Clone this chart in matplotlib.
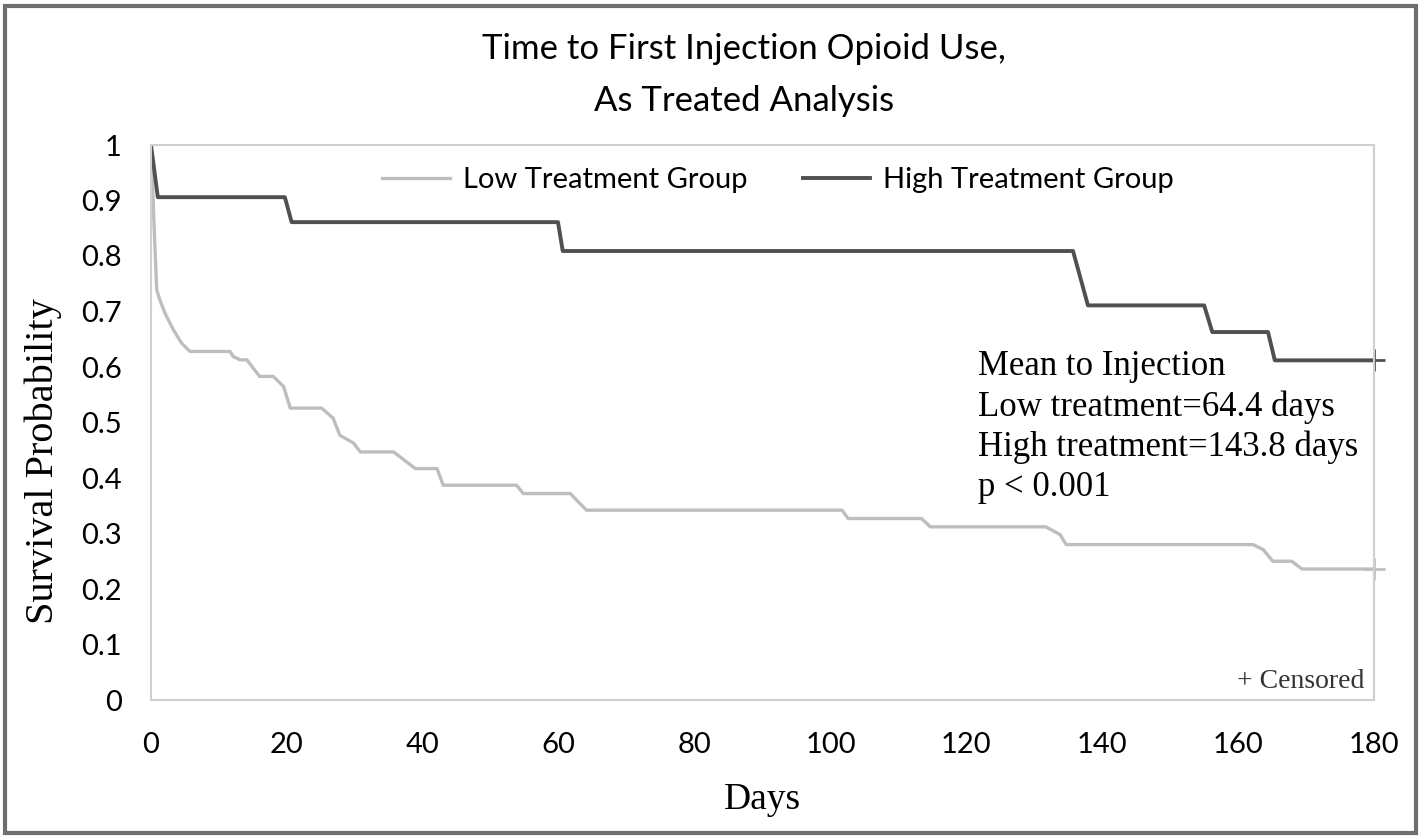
import matplotlib
matplotlib.use("Agg")
import matplotlib.pyplot as plt
from matplotlib.patches import Rectangle

# ---- data ----
low_days = [0, 0.5, 0.84, 1.3, 2.06, 3.3, 4.5, 5.74, 11.63, 12.1, 13.1, 14.1, 16.0, 18.0,
            19.5, 20.5, 25.1, 26.8, 27.8, 29.8, 30.8, 35.7, 38.9, 42.1, 43.0, 53.8, 54.8,
            61.7, 64.1, 101.7, 102.6, 113.4, 114.7, 131.7, 133.8, 134.7, 162.2, 163.7,
            165.1, 167.9, 169.4, 180]
low_surv = [1.0, 0.84, 0.739, 0.721, 0.697, 0.667, 0.643, 0.628, 0.628, 0.619, 0.613, 0.613,
            0.583, 0.583, 0.565, 0.526, 0.526, 0.508, 0.477, 0.463, 0.447, 0.447, 0.417,
            0.417, 0.387, 0.387, 0.372, 0.372, 0.342, 0.342, 0.327, 0.327, 0.312, 0.312,
            0.298, 0.280, 0.280, 0.271, 0.250, 0.250, 0.236, 0.236]

high_days = [0, 1.0, 19.7, 20.7, 59.9, 60.6, 135.7, 137.9, 155.0, 156.2, 164.4, 165.4, 180]
high_surv = [1.0, 0.906, 0.906, 0.861, 0.861, 0.809, 0.809, 0.711, 0.711, 0.663, 0.663,
             0.612, 0.612]

censor_day = 180
low_censor = 0.236
high_censor = 0.612

x_ticks = [0, 20, 40, 60, 80, 100, 120, 140, 160, 180]
y_ticks = [0, 0.1, 0.2, 0.3, 0.4, 0.5, 0.6, 0.7, 0.8, 0.9, 1]
y_tick_labels = ["0", "0.1", "0.2", "0.3", "0.4", "0.5", "0.6", "0.7", "0.8", "0.9", "1"]

title = "Time to First Injection Opioid Use,\nAs Treated Analysis"
series_names = ["Low Treatment Group", "High Treatment Group"]
annot = "Mean to Injection\nLow treatment=64.4 days\nHigh treatment=143.8 days\np < 0.001"

LOW_C = "#bebebe"
HIGH_C = "#505050"
SANS = ["Lato", "DejaVu Sans"]
SERIF = ["Liberation Serif", "DejaVu Serif"]

W, H = 1423, 838
fig = plt.figure(figsize=(W / 100, H / 100), dpi=100)
ax = fig.add_axes([151 / W, 1 - 700 / H, (1374 - 151) / W, (700 - 145) / H])

ax.plot(low_days, low_surv, color=LOW_C, lw=2.4, label=series_names[0], solid_joinstyle="round")
ax.plot(high_days, high_surv, color=HIGH_C, lw=2.8, label=series_names[1], solid_joinstyle="round")
ax.plot([censor_day], [low_censor], marker="+", color=LOW_C, ms=16, mew=2, clip_on=False)
ax.plot([censor_day], [high_censor], marker="+", color=HIGH_C, ms=16, mew=2, clip_on=False)

ax.set_xlim(0, 180)
ax.set_ylim(0, 1)
ax.set_xticks(x_ticks)
ax.set_xticklabels([str(v) for v in x_ticks], fontfamily=SANS, fontsize=21)
ax.set_yticks(y_ticks)
ax.set_yticklabels(y_tick_labels, fontfamily=SANS, fontsize=21)
ax.tick_params(axis="x", length=0, pad=23)
ax.tick_params(axis="y", length=0, pad=21)
for s in ax.spines.values():
    s.set_color("#d0d0d0")
    s.set_linewidth(1.5)

ax.set_xlabel("Days", fontfamily=SERIF, fontsize=27, va="top")
ax.xaxis.set_label_coords(0.5, -(782 - 700) / 555)
ax.set_ylabel("Survival Probability", fontfamily=SERIF, fontsize=29)
ax.yaxis.set_label_coords((62 - 151) / 1223, (700 - 461) / 555)

leg = ax.legend(ncol=2, loc="center", bbox_to_anchor=((778 - 151) / (1374 - 151), (700 - 180) / (700 - 145)),
                frameon=False, prop={"family": SANS, "size": 21}, handlelength=2.3,
                handletextpad=0.45, columnspacing=1.9)

fig.text(744 / W, 1 - 75 / H, title, ha="center", va="center", fontfamily=SANS,
         fontsize=25, linespacing=1.75)

fig.text(978 / W, 1 - 350 / H, annot, ha="left", va="top", fontfamily=SERIF,
         fontsize=25, linespacing=1.28)
fig.text(1364 / W, 1 - 681 / H, "+ Censored", ha="right", va="center", fontfamily=SERIF,
         fontsize=20, color="#333333")

fig.patches.append(Rectangle((5 / W, 5 / H), (1416 - 5) / W, (832 - 5) / H, transform=fig.transFigure,
                             fill=False, edgecolor="#6e6e6e", lw=3))

fig.savefig("out.png", dpi=100)
